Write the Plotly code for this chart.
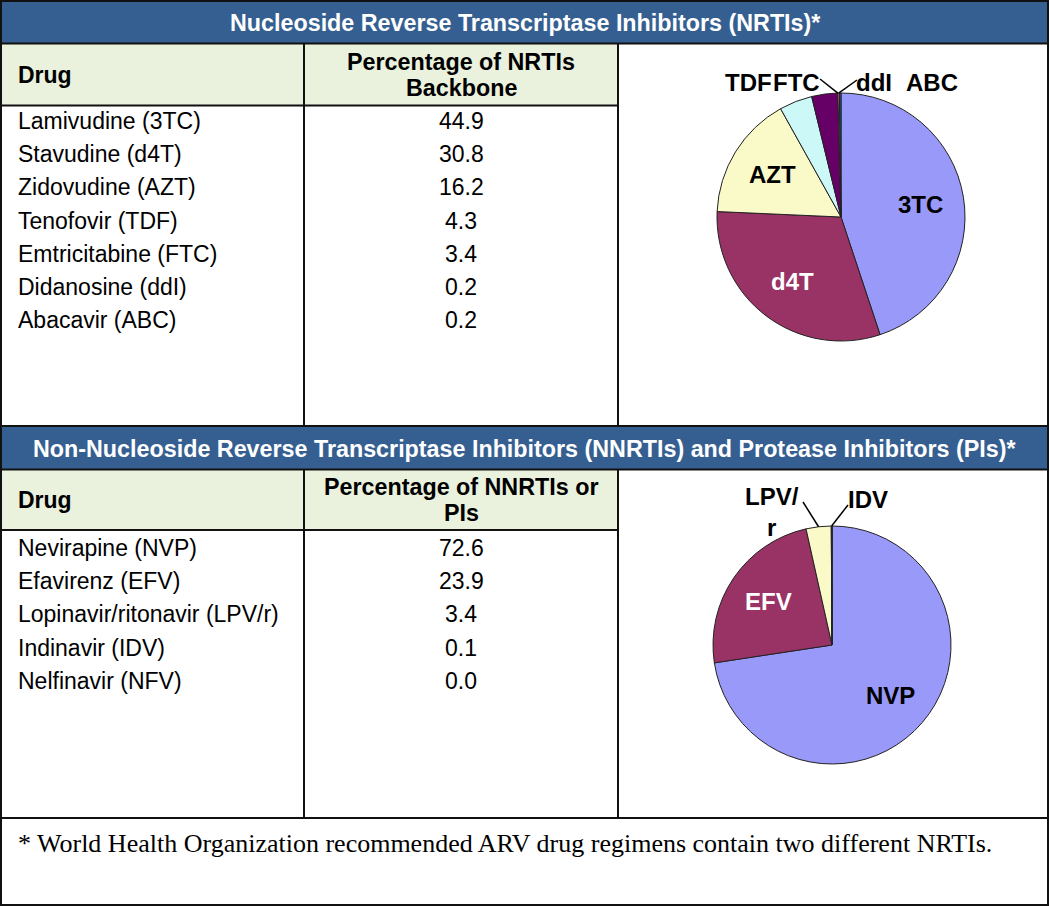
import math
import plotly.graph_objects as go

W, H = 1050, 906

# ---------------- data ----------------
nrti_title = "Nucleoside Reverse Transcriptase Inhibitors (NRTIs)*"
nrti_head = ["Drug", "Percentage of NRTIs", "Backbone"]
nrti_drugs = ["Lamivudine (3TC)", "Stavudine (d4T)", "Zidovudine (AZT)", "Tenofovir (TDF)",
              "Emtricitabine (FTC)", "Didanosine (ddI)", "Abacavir (ABC)"]
nrti_abbr = ["3TC", "d4T", "AZT", "TDF", "FTC", "ddI", "ABC"]
nrti_pct = [44.9, 30.8, 16.2, 4.3, 3.4, 0.2, 0.2]

nnrti_title = "Non-Nucleoside Reverse Transcriptase Inhibitors (NNRTIs) and Protease Inhibitors (PIs)*"
nnrti_head = ["Drug", "Percentage of NNRTIs or", "PIs"]
nnrti_drugs = ["Nevirapine (NVP)", "Efavirenz (EFV)", "Lopinavir/ritonavir (LPV/r)",
               "Indinavir (IDV)", "Nelfinavir (NFV)"]
nnrti_abbr = ["NVP", "EFV", "LPV/r", "IDV", "NFV"]
nnrti_pct = [72.6, 23.9, 3.4, 0.1, 0.0]

footnote = "* World Health Organization recommended ARV drug regimens contain two different NRTIs."

# ---------------- styles ----------------
BLUE = "#365F91"
GREEN = "#EAF1DD"
LINE = "#111111"
SANS = "Liberation Sans"
SERIF = "Liberation Serif"
slice_colors = ["#9999FA", "#993366", "#FAFAC8", "#CCF8F8", "#660066", "#FF8080", "#0066CC"]
inside_text_colors = {"3TC": "black", "d4T": "white", "AZT": "black", "NVP": "black", "EFV": "white"}

# layout geometry (pixels)
X_LEFT, X_COL1, X_COL2, X_RIGHT = 1, 304, 618, 1048
NUM_X = 461
ROW_STEP = 33.2
sections = [
    dict(title=nrti_title, head=nrti_head, drugs=nrti_drugs, abbr=nrti_abbr, pct=nrti_pct,
         top=1, tb=43.5, hb=105.5, bottom=426, row0=121, pie=(841, 217, 124),
         outside={"TDF": (748.5, 82, None), "FTC": (796.5, 82, (820, 79)),
                  "ddI": (874, 82, (857, 80)), "ABC": (932, 82, None)},
         tipmode={"FTC": "end", "ddI": "mid"}),
    dict(title=nnrti_title, head=nnrti_head, drugs=nnrti_drugs, abbr=nnrti_abbr, pct=nnrti_pct,
         top=426, tb=469.5, hb=530, bottom=818, row0=548, pie=(832, 645, 119),
         outside={"LPV/r": (772, 512, (803, 502)), "IDV": (868, 499, (848, 505))},
         tipmode={"LPV/r": "mid", "IDV": "mid"}),
]

fig = go.Figure()
fig.add_trace(go.Scatter(x=[], y=[], showlegend=False, hoverinfo="skip"))

shapes = []
annotations = []


def hline(y, x0=X_LEFT, x1=X_RIGHT, w=2):
    shapes.append(dict(type="line", xref="x", yref="y", x0=x0, x1=x1, y0=y, y1=y,
                       line=dict(color=LINE, width=w)))


def vline(x, y0, y1, w=2):
    shapes.append(dict(type="line", xref="x", yref="y", x0=x, x1=x, y0=y0, y1=y1,
                       line=dict(color=LINE, width=w)))


def text(x, y, s, size=23, bold=False, color="black", align="center", family=SANS):
    annotations.append(dict(xref="x", yref="y", x=x, y=y, text=s, showarrow=False,
                            xanchor={"left": "left", "center": "center"}[align], yanchor="middle",
                            font=dict(family=family, size=size, color=color,
                                      weight="bold" if bold else "normal")))


for k, sec in enumerate(sections):
    top, tb, hb, bottom = sec["top"], sec["tb"], sec["hb"], sec["bottom"]
    # fills
    shapes.append(dict(type="rect", xref="x", yref="y", x0=X_LEFT, x1=X_RIGHT, y0=top, y1=tb,
                       fillcolor=BLUE, line=dict(width=0), layer="below"))
    shapes.append(dict(type="rect", xref="x", yref="y", x0=X_LEFT, x1=X_COL2, y0=tb, y1=hb,
                       fillcolor=GREEN, line=dict(width=0), layer="below"))
    # grid
    hline(tb)
    hline(hb, X_LEFT, X_COL2)
    vline(X_COL1, tb, bottom)
    vline(X_COL2, tb, bottom)
    hline(bottom)
    # texts
    text(W / 2, (top + tb) / 2 + 1, sec["title"], size=23.3, bold=True, color="white")
    hm = (tb + hb) / 2
    text(16, hm, sec["head"][0], size=23, bold=True, align="left")
    text(NUM_X, hm - 13, sec["head"][1], size=23.3, bold=True)
    text(NUM_X, hm + 13, sec["head"][2], size=23.3, bold=True)
    for i, (d, v) in enumerate(zip(sec["drugs"], sec["pct"])):
        y = sec["row0"] + i * ROW_STEP
        text(16, y, d, align="left")
        text(NUM_X, y, f"{v:.1f}")

    # pie
    cx, cy, R = sec["pie"]
    fig.add_trace(go.Pie(
        labels=sec["abbr"], values=sec["pct"], sort=False, direction="clockwise", rotation=0,
        marker=dict(colors=slice_colors[:len(sec["pct"])], line=dict(color="#222222", width=1)),
        textinfo="none", showlegend=False, hoverinfo="label+value",
        domain=dict(x=[(cx - R) / W, (cx + R) / W], y=[1 - (cy + R) / H, 1 - (cy - R) / H]),
    ))
    total = sum(sec["pct"])
    cum = 0.0
    for a, v in zip(sec["abbr"], sec["pct"]):
        mid = 2 * math.pi * (cum + v / 2) / total
        end = 2 * math.pi * (cum + v) / total
        if a in inside_text_colors:
            f = 0.65
            text(cx + f * R * math.sin(mid), cy - f * R * math.cos(mid), a, size=24, bold=True,
                 color=inside_text_colors[a])
        elif a in sec["outside"]:
            lx, ly, tail = sec["outside"][a]
            text(lx, ly, a.replace("/", "/<br>"), size=24, bold=True)
            if tail is not None:
                ang = end if sec["tipmode"][a] == "end" else mid
                tx, ty = cx + R * math.sin(ang), cy - R * math.cos(ang)
                shapes.append(dict(type="line", xref="x", yref="y", x0=tail[0], y0=tail[1],
                                   x1=tx, y1=ty, line=dict(color="black", width=1.5)))
        cum += v

# footnote
text(16, 843, footnote, size=26, align="left", family=SERIF)

# outer border
shapes.append(dict(type="rect", xref="x", yref="y", x0=X_LEFT, x1=X_RIGHT, y0=1, y1=905,
                   line=dict(color=LINE, width=2)))

fig.update_layout(
    width=W, height=H, margin=dict(l=0, r=0, t=0, b=0),
    paper_bgcolor="white", plot_bgcolor="white",
    xaxis=dict(range=[0, W], domain=[0, 1], visible=False, fixedrange=True),
    yaxis=dict(range=[H, 0], domain=[0, 1], visible=False, fixedrange=True),
    shapes=shapes, annotations=annotations, showlegend=False,
)

fig.write_html("out.html", config={"displayModeBar": False},
               post_script="document.body.style.margin='0';document.body.style.overflow='hidden';")
